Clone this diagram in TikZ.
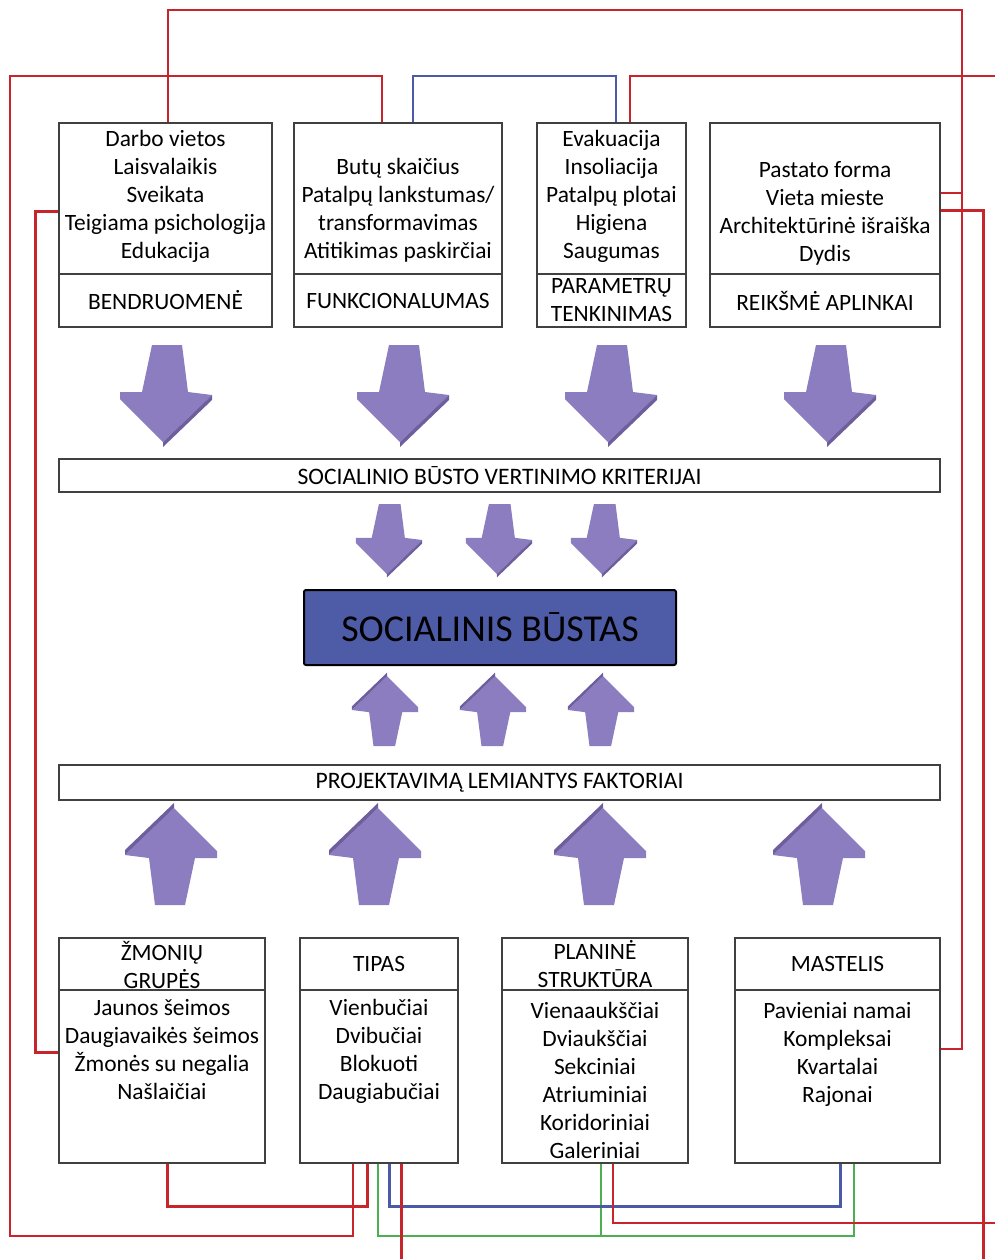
\documentclass[tikz,border=0pt]{standalone}
\usepackage{fontspec}
\setmainfont{Carlito}
\usepackage{tikz}

\newcommand\txtfont{\fontsize{11.7}{14}\selectfont}
\newcommand\barfont{\fontsize{11.8}{13}\selectfont}
\newcommand\corefont{\fontsize{19}{22}\selectfont}

\definecolor{linered}{HTML}{C8242B}
\definecolor{lineblue}{HTML}{4A5AA8}
\definecolor{linegreen}{HTML}{4CAF50}
\definecolor{arrowfill}{HTML}{8B7DBF}
\definecolor{arrowdark}{HTML}{6E5E9E}
\definecolor{corefill}{HTML}{4E5BA6}

\tikzset{
  cell/.style={draw=black!75, line width=0.6pt, inner sep=0pt, align=center, font=\txtfont},
  txt/.style={inner sep=0pt, align=center, font=\txtfont},
  rthin/.style={draw=linered, line width=0.75pt},
  rmid/.style={draw=linered, line width=1pt},
  rthick/.style={draw=linered, line width=1.5pt},
  bmid/.style={draw=lineblue, line width=1.25pt},
  bthick/.style={draw=lineblue, line width=1.5pt},
  gthin/.style={draw=linegreen, line width=0.75pt},
  fatarrow/.pic={
    \fill[arrowfill] (-3,-3) -- (-46,-46) -- (-46,-53) -- (-24,-53) -- (-14,-100)
        -- (16,-100) -- (22,-53) -- (46,-50) -- cycle;
    \fill[arrowdark] (-3,-3) -- (46,-50) -- (46,-45) -- (-3,2) -- cycle;
  }
}

\begin{document}
\begin{tikzpicture}[x=0.5pt, y=-0.5pt]
\useasboundingbox (0,0) rectangle (995,1259);

% top row
\node[cell, minimum width=106.5pt, minimum height=75.5pt] (bendr) at (165.5,198.5) {};
\node[cell, minimum width=106.5pt, minimum height=26.5pt] (bendrlab) at (165.5,300.5) {BENDRUOMENĖ};
\node[txt] (bendrtxt) at (165.5,196) {Darbo vietos\\Laisvalaikis\\Sveikata\\Teigiama psichologija\\Edukacija};

\node[cell, minimum width=104pt, minimum height=75.5pt] (funk) at (398,198.5) {};
\node[cell, minimum width=104pt, minimum height=26.5pt] (funklab) at (398,300.5) {FUNKCIONALUMAS};
\node[txt] (funktxt) at (398,210) {Butų skaičius\\Patalpų lankstumas/\\transformavimas\\Atitikimas paskirčiai};

\node[cell, minimum width=74.5pt, minimum height=75.5pt] (param) at (611.5,198.5) {};
\node[cell, minimum width=74.5pt, minimum height=26.5pt] (paramlab) at (611.5,300.5) {};
\node[txt] (paramlabtxt) at (611.5,300.5) {PARAMETRŲ\\TENKINIMAS};
\node[txt] (paramtxt) at (611.5,196) {Evakuacija\\Insoliacija\\Patalpų plotai\\Higiena\\Saugumas};

\node[cell, minimum width=115pt, minimum height=75.5pt] (reiks) at (825,198.5) {};
\node[cell, minimum width=115pt, minimum height=26.5pt] (reikslab) at (825,300.5) {REIKŠMĖ APLINKAI};
\node[txt] (reikstxt) at (825,213) {Pastato forma\\Vieta mieste\\Architektūrinė išraiška\\Dydis};

% bars and core
\node[cell, minimum width=440.5pt, minimum height=16.5pt, font=\barfont] (krit) at (499.5,475.5) {SOCIALINIO BŪSTO VERTINIMO KRITERIJAI};
\node[draw=black, line width=1pt, rounded corners=1pt, fill=corefill, inner sep=0pt,
      minimum width=186pt, minimum height=37.5pt, font=\corefont] (sb) at (490,627.5) {SOCIALINIS BŪSTAS};
\node[cell, minimum width=440.5pt, minimum height=17.5pt, font=\barfont] (fakt) at (499.5,782.5) {PROJEKTAVIMĄ LEMIANTYS FAKTORIAI};

% bottom row
\node[cell, minimum width=103pt, minimum height=26pt] (zmon) at (162,964) {};
\node[cell, minimum width=103pt, minimum height=86.5pt] (zmonb) at (162,1076.5) {};
\node[txt] (zmonhd) at (162,965) {ŽMONIŲ\\GRUPĖS};
\node[txt] (zmontxt) at (162,1050) {Jaunos šeimos\\Daugiavaikės šeimos\\Žmonės su negalia\\Našlaičiai};

\node[cell, minimum width=79pt, minimum height=26pt] (tipas) at (379,964) {TIPAS};
\node[cell, minimum width=79pt, minimum height=86.5pt] (tipasb) at (379,1076.5) {};
\node[txt] (tipastxt) at (379,1051) {Vienbučiai\\Dvibučiai\\Blokuoti\\Daugiabučiai};

\node[cell, minimum width=93pt, minimum height=26pt] (plan) at (595,964) {};
\node[cell, minimum width=93pt, minimum height=86.5pt] (planb) at (595,1076.5) {};
\node[txt] (planhd) at (595,964) {PLANINĖ\\STRUKTŪRA};
\node[txt] (plantxt) at (595,1080) {Vienaaukščiai\\Dviaukščiai\\Sekciniai\\Atriuminiai\\Koridoriniai\\Galeriniai};

\node[cell, minimum width=102.5pt, minimum height=26pt] (mast) at (837.5,964) {MASTELIS};
\node[cell, minimum width=102.5pt, minimum height=86.5pt] (mastb) at (837.5,1076.5) {};
\node[txt] (masttxt) at (837.5,1054) {Pavieniai namai\\Kompleksai\\Kvartalai\\Rajonai};

% arrows
\foreach \x in {166,403,611,830}
    \pic at (\x,445) {fatarrow};
\foreach \x in {389,499,604}
    \pic[scale=0.72] at (\x,576) {fatarrow};
\foreach \x in {385,493,601}
    \pic[rotate=180, scale=0.72] at (\x,674) {fatarrow};
\foreach \x in {171,375,600,819}
    \pic[rotate=180] at (\x,805) {fatarrow};

% free ends
\coordinate (exitA) at (995,76);
\coordinate (exitB) at (983,1259);
\coordinate (exitC) at (401,1259);
\coordinate (exitD) at (995,1223);

% links
\draw[rthin] (bendr.north -| 168,0) |- (962,10) |- (mastb.east |- 0,1049);
\draw[rthin] (reiks.east |- 0,193) -- (962,193);
\draw[rthin] (funk.north -| 382,0) |- (10,76) -- (10,1236) -| (tipasb.south -| 353,0);
\draw[bmid] (funk.north -| 413,0) |- (616,76) -- (param.north -| 616,0);
\draw[rmid] (param.north -| 630,0) |- (exitA);
\draw[rthick] (reiks.east |- 0,210) -| (exitB);
\draw[rthick] (bendr.west |- 0,211) -| (35,1052) -- (zmonb.west |- 0,1052);
\draw[rthick] (zmonb.south -| 167,0) |- (367,1206) -- (tipasb.south -| 367,0);
\draw[gthin] (tipasb.south -| 378,0) |- (854,1236) -- (mastb.south -| 854,0);
\draw[gthin] (planb.south -| 601,0) -- (601,1236);
\draw[bthick] (tipasb.south -| 389,0) |- (840,1206) -- (mastb.south -| 840,0);
\draw[rthick] (tipasb.south -| 401,0) -- (exitC);
\draw[rmid] (planb.south -| 613,0) |- (exitD);

\end{tikzpicture}
\end{document}
